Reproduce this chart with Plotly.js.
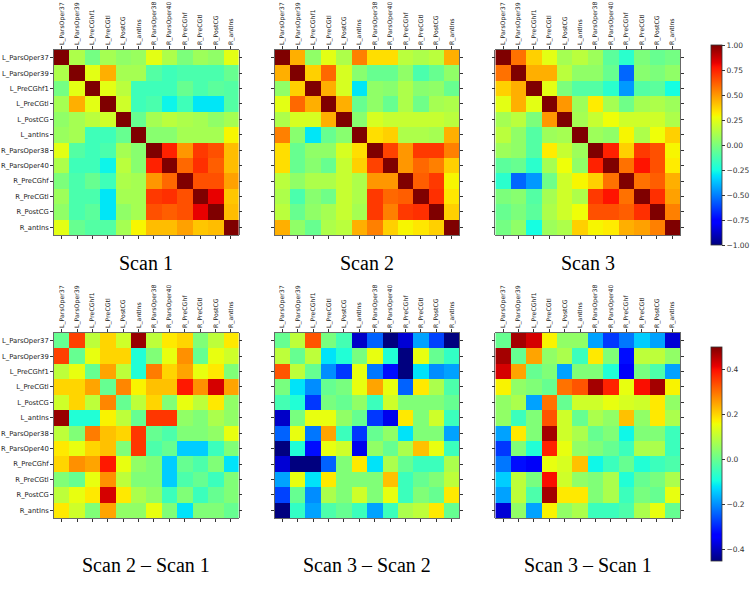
<!DOCTYPE html>
<html>
<head>
<meta charset="utf-8">
<script src="https://cdn.plot.ly/plotly-3.0.1.min.js"></script>
<style>html,body{margin:0;padding:0;background:#fff}#chart{width:750px;height:602px}</style>
</head>
<body>
<div id="chart"></div>
<script>
const labels = ["L_ParsOper37","L_ParsOper39","L_PreCGhf1","L_PreCGtl","L_PostCG","L_antIns","R_ParsOper38","R_ParsOper40","R_PreCGhf","R_PreCGtl","R_PostCG","R_antIns"];
const titles = ["Scan 1","Scan 2","Scan 3","Scan 2 \u2013 Scan 1","Scan 3 \u2013 Scan 2","Scan 3 \u2013 Scan 1"];
const topTicks = [-1,-0.75,-0.5,-0.25,0,0.25,0.5,0.75,1];
const diffTicks = [-0.4,-0.2,0,0.2,0.4];

const scan1 = [
[1.00,0.12,-0.02,0.10,0.05,0.07,0.25,0.12,0.00,0.08,0.05,0.25],
[0.12,1.00,0.25,0.45,0.10,0.10,-0.10,-0.15,-0.12,-0.12,-0.12,-0.05],
[-0.02,0.25,1.00,0.25,0.15,-0.15,-0.15,-0.15,-0.05,-0.12,-0.08,-0.10],
[0.10,0.45,0.25,1.00,0.20,-0.15,-0.12,-0.27,-0.15,-0.30,-0.30,-0.10],
[0.05,0.10,0.15,0.20,1.00,-0.05,0.10,0.15,0.12,0.10,0.05,0.10],
[0.07,0.10,-0.15,-0.15,-0.05,1.00,0.03,0.03,0.10,0.10,0.10,0.30],
[0.25,-0.10,-0.15,-0.12,0.10,0.03,1.00,0.75,0.50,0.70,0.65,0.42],
[0.12,-0.15,-0.15,-0.27,0.15,0.03,0.75,1.00,0.60,0.72,0.62,0.42],
[0.00,-0.12,-0.05,-0.15,0.12,0.10,0.50,0.60,1.00,0.65,0.65,0.48],
[0.08,-0.12,-0.12,-0.30,0.10,0.10,0.70,0.72,0.65,1.00,0.82,0.40],
[0.05,-0.12,-0.08,-0.30,0.05,0.10,0.65,0.62,0.65,0.82,1.00,0.42],
[0.25,-0.05,-0.10,-0.10,0.10,0.30,0.42,0.42,0.48,0.40,0.42,1.00]];

const scan2 = [
[1.00,0.45,0.05,0.25,0.12,0.55,0.35,0.35,0.15,0.12,0.15,0.45],
[0.45,1.00,0.38,0.60,0.22,0.03,-0.05,-0.05,0.05,-0.12,-0.05,0.05],
[0.05,0.38,1.00,0.45,0.22,-0.30,0.05,0.03,0.12,0.03,0.05,-0.05],
[0.25,0.60,0.45,1.00,0.45,-0.05,0.05,-0.05,0.12,-0.03,0.10,0.12],
[0.12,0.22,0.22,0.45,1.00,0.03,0.22,0.18,0.18,0.18,0.18,0.15],
[0.55,0.03,-0.30,-0.05,0.03,1.00,0.35,0.38,0.12,0.12,0.10,0.45],
[0.35,-0.05,0.05,0.05,0.22,0.35,1.00,0.68,0.50,0.70,0.70,0.55],
[0.35,-0.05,0.03,-0.05,0.18,0.38,0.68,1.00,0.50,0.60,0.55,0.38],
[0.15,0.05,0.12,0.12,0.18,0.12,0.50,0.50,1.00,0.62,0.70,0.30],
[0.12,-0.12,0.03,-0.03,0.18,0.12,0.70,0.60,0.62,1.00,0.72,0.33],
[0.15,-0.05,0.05,0.10,0.18,0.10,0.70,0.55,0.70,0.72,1.00,0.38],
[0.45,0.05,-0.05,0.12,0.15,0.45,0.55,0.38,0.30,0.33,0.38,1.00]];

const scan3 = [
[1.00,0.58,0.38,0.25,0.10,0.15,0.08,-0.08,-0.20,0.00,-0.05,-0.02],
[0.58,1.00,0.45,0.45,0.15,0.05,0.05,-0.05,-0.55,0.03,0.00,0.05],
[0.38,0.45,1.00,0.25,0.00,-0.10,-0.10,-0.20,-0.45,-0.10,-0.08,-0.25],
[0.25,0.45,0.25,1.00,0.50,0.08,0.32,0.10,-0.03,0.10,0.12,0.08],
[0.10,0.15,0.00,0.50,1.00,0.10,0.18,0.28,0.20,0.20,0.20,0.12],
[0.15,0.05,-0.10,0.08,0.10,1.00,0.08,0.05,0.30,0.12,0.28,0.38],
[0.08,0.05,-0.10,0.32,0.18,0.08,1.00,0.75,0.38,0.70,0.65,0.30],
[-0.08,-0.05,-0.20,0.10,0.28,0.05,0.75,1.00,0.58,0.78,0.65,0.32],
[-0.20,-0.55,-0.45,-0.03,0.20,0.30,0.38,0.58,1.00,0.58,0.62,0.45],
[0.00,0.03,-0.10,0.10,0.20,0.12,0.70,0.78,0.58,1.00,0.72,0.48],
[-0.05,0.00,-0.08,0.12,0.20,0.28,0.65,0.65,0.62,0.72,1.00,0.55],
[-0.02,0.05,-0.25,0.08,0.12,0.38,0.30,0.32,0.45,0.48,0.55,1.00]];

const diff21 = [
[0.00,0.35,0.10,0.20,0.12,0.48,0.10,0.18,0.20,0.03,0.10,0.18],
[0.35,0.00,0.15,0.20,0.20,-0.08,0.03,0.15,0.27,0.00,0.15,0.12],
[0.10,0.15,0.00,0.25,0.10,-0.08,0.29,0.20,0.25,0.15,0.18,0.03],
[0.20,0.20,0.25,0.00,0.28,0.17,0.22,0.22,0.39,0.27,0.43,0.25],
[0.12,0.20,0.10,0.28,0.00,0.10,0.20,0.03,0.15,0.10,0.18,0.05],
[0.48,-0.08,-0.08,0.17,0.10,0.00,0.36,0.36,0.05,0.03,0.08,0.05],
[0.10,0.03,0.29,0.22,0.20,0.36,0.00,-0.03,0.03,0.03,0.05,0.15],
[0.18,0.15,0.20,0.22,0.03,0.36,-0.03,0.00,-0.14,-0.14,-0.05,0.03],
[0.20,0.27,0.25,0.39,0.15,0.05,0.03,-0.14,0.00,-0.03,0.03,-0.12],
[0.03,0.00,0.15,0.27,0.10,0.03,0.03,-0.14,-0.03,0.00,-0.05,0.03],
[0.10,0.15,0.18,0.43,0.18,0.08,0.05,-0.05,0.03,-0.05,0.00,0.03],
[0.18,0.12,0.03,0.25,0.05,0.05,0.15,0.03,-0.12,0.03,0.03,0.00]];

const diff32 = [
[0.00,0.10,0.33,0.02,-0.04,-0.39,-0.24,-0.47,-0.38,-0.18,-0.27,-0.47],
[0.10,0.00,0.10,-0.12,-0.08,0.02,0.15,-0.08,-0.47,0.15,0.00,-0.06],
[0.33,0.10,0.00,-0.20,-0.28,0.15,-0.22,-0.32,-0.47,-0.12,-0.20,-0.18],
[0.02,-0.12,-0.20,0.00,0.02,0.15,0.25,0.15,-0.24,0.18,0.08,-0.03],
[-0.04,-0.08,-0.28,0.02,0.00,0.05,-0.05,0.12,0.03,0.03,0.03,0.00],
[-0.39,0.02,0.15,0.15,0.05,0.00,-0.28,-0.36,0.18,0.03,0.12,-0.05],
[-0.24,0.15,-0.22,0.25,-0.05,-0.28,0.00,0.05,-0.12,0.03,0.03,-0.18],
[-0.47,-0.08,-0.32,0.15,0.12,-0.36,0.05,0.00,0.08,0.22,0.15,-0.05],
[-0.38,-0.47,-0.47,-0.24,0.03,0.18,-0.12,0.08,0.00,-0.05,-0.05,0.08],
[-0.18,0.15,-0.12,0.18,0.03,0.03,0.03,0.22,-0.05,0.00,0.03,0.10],
[-0.27,0.00,-0.20,0.08,0.03,0.12,0.03,0.15,-0.05,0.03,0.00,0.18],
[-0.47,-0.06,-0.18,-0.03,0.00,-0.05,-0.18,-0.05,0.08,0.10,0.18,0.00]];

const diff31 = [
[0.00,0.47,0.43,0.17,0.05,0.05,-0.18,-0.28,-0.22,-0.14,-0.18,-0.38],
[0.47,0.00,0.25,0.05,0.08,-0.05,0.18,0.03,-0.32,0.10,0.10,0.05],
[0.43,0.25,0.00,0.03,-0.18,0.03,0.03,-0.08,-0.35,0.02,-0.03,-0.18],
[0.17,0.05,0.03,0.00,0.30,0.33,0.47,0.38,0.15,0.40,0.47,0.17],
[0.05,0.08,-0.18,0.30,0.00,0.12,0.12,0.15,0.13,0.12,0.18,0.05],
[0.05,-0.05,0.03,0.33,0.12,0.00,0.08,0.05,0.22,0.05,0.18,0.08],
[-0.18,0.18,0.03,0.47,0.12,0.08,0.00,0.03,-0.10,0.03,0.03,-0.05],
[-0.28,0.03,-0.08,0.38,0.15,0.05,0.03,0.00,-0.05,0.08,0.08,-0.05],
[-0.22,-0.32,-0.35,0.15,0.13,0.22,-0.10,-0.05,0.00,-0.08,-0.05,-0.03],
[-0.14,0.10,0.02,0.40,0.12,0.05,0.03,0.08,-0.08,0.00,0.02,0.08],
[-0.18,0.10,-0.03,0.47,0.18,0.18,0.03,0.08,-0.05,0.02,0.00,0.15],
[-0.38,0.05,-0.18,0.17,0.05,0.08,-0.05,-0.05,-0.03,0.08,0.15,0.00]];

const jet = [[0,'rgb(0,0,127)'],[0.11,'rgb(0,0,255)'],[0.125,'rgb(0,0,255)'],[0.34,'rgb(0,219,255)'],[0.35,'rgb(0,230,247)'],[0.375,'rgb(21,255,226)'],[0.64,'rgb(239,255,8)'],[0.65,'rgb(247,246,0)'],[0.66,'rgb(255,236,0)'],[0.89,'rgb(255,19,0)'],[0.91,'rgb(232,0,0)'],[1,'rgb(127,0,0)']];

const W = 750, H = 602;
const colsX = [[54,239],[275,460],[496,681]];
const rowsY = [[50,235],[333,518]];
const cbY = [[45,245],[347,561]];
const mats = [scan1, scan2, scan3, diff21, diff32, diff31];
const xTickFont = {family: 'DejaVu Sans', size: 6.2, color: '#222'};
const yTickFont = {family: 'DejaVu Sans', size: 6.8, color: '#222'};

const data = [];
const layout = {
  width: W, height: H,
  margin: {l:0, r:0, t:0, b:0},
  paper_bgcolor: '#fff', plot_bgcolor: '#fff',
  showlegend: false,
  annotations: []
};

for (let i = 0; i < 6; i++) {
  const r = Math.floor(i / 3), c = i % 3;
  const n = i === 0 ? '' : String(i + 1);
  const isTop = r === 0;
  const zmin = isTop ? -1 : -0.45, zmax = isTop ? 1 : 0.5;
  const tr = {
    type: 'heatmap', z: mats[i], x: labels, y: labels,
    xaxis: 'x' + n, yaxis: 'y' + n,
    colorscale: jet, zmin: zmin, zmax: zmax,
    showscale: c === 2, hoverinfo: 'skip'
  };
  if (c === 2) {
    const yc = (cbY[r][0] + cbY[r][1]) / 2;
    tr.colorbar = {
      x: 711 / W, xanchor: 'left', xref: 'paper',
      y: 1 - yc / H, yanchor: 'middle', yref: 'paper',
      len: (cbY[r][1] - cbY[r][0]) / H, lenmode: 'fraction',
      thickness: 11, thicknessmode: 'pixels',
      xpad: 0, ypad: 0,
      outlinewidth: 0.8, outlinecolor: '#333',
      ticks: 'outside', ticklen: 3, tickcolor: '#333',
      tickvals: isTop ? topTicks : diffTicks,
      tickformat: isTop ? '.2f' : '.1f',
      tickfont: {family: 'DejaVu Sans', size: 7.5, color: '#333'}
    };
  }
  data.push(tr);
  const xd = [colsX[c][0] / W, colsX[c][1] / W];
  const yd = [1 - rowsY[r][1] / H, 1 - rowsY[r][0] / H];
  layout['xaxis' + n] = {
    domain: xd, anchor: 'y' + n, side: 'top', type: 'category',
    tickangle: -90, tickfont: xTickFont,
    ticks: 'outside', ticklen: 3, tickcolor: '#333',
    showline: true, linecolor: '#444', linewidth: 0.8, mirror: 'ticks',
    showgrid: false, zeroline: false, fixedrange: true
  };
  layout['yaxis' + n] = {
    domain: yd, anchor: 'x' + n, type: 'category', autorange: 'reversed',
    tickfont: yTickFont, showticklabels: c === 0,
    ticks: 'outside', ticklen: 3, tickcolor: '#333',
    showline: true, linecolor: '#444', linewidth: 0.8, mirror: 'ticks',
    showgrid: false, zeroline: false, fixedrange: true
  };
  layout.annotations.push({
    text: titles[i], xref: 'paper', yref: 'paper',
    x: (xd[0] + xd[1]) / 2, y: 1 - (isTop ? 263 : 565) / H,
    xanchor: 'center', yanchor: 'middle', showarrow: false,
    font: {family: 'Liberation Serif', size: 20, color: '#000'}
  });
}

Plotly.newPlot('chart', data, layout, {staticPlot: true, displayModeBar: false});
</script>
</body>
</html>
